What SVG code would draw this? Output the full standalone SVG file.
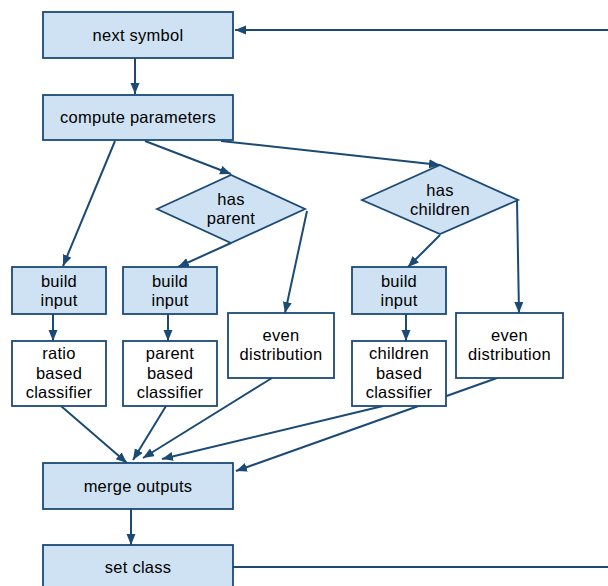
<svg xmlns="http://www.w3.org/2000/svg" width="608" height="586" viewBox="0 0 608 586">
<style>
.b{fill:#cfe2f3;stroke:#1b4a75;stroke-width:1.8}
.w{fill:#ffffff;stroke:#1b4a75;stroke-width:1.8}
text{font-family:"Liberation Sans",Arial,sans-serif;font-size:16.5px;letter-spacing:0.25px;fill:#000;text-anchor:middle}
#connectors line{stroke:#1b4a75;stroke-width:2;fill:none}
.a{marker-end:url(#ah)}
</style>
<defs>
<marker id="ah" markerUnits="userSpaceOnUse" markerWidth="12" markerHeight="10" refX="11" refY="4.5" orient="auto" viewBox="0 0 12 10">
<path d="M0,0 L11,4.5 L0,9 z" fill="#1b4a75"/>
</marker>
</defs>
<rect width="608" height="586" fill="#ffffff"/>
<g id="connectors">
<line class="a" x1="608" y1="30" x2="235" y2="30"/>
<line class="a" x1="135" y1="58" x2="135" y2="94"/>
<line class="a" x1="115" y1="141" x2="63" y2="266"/>
<line class="a" x1="145" y1="141" x2="231" y2="174"/>
<line class="a" x1="221" y1="141" x2="440" y2="165"/>
<line class="a" x1="231" y1="243" x2="178" y2="267"/>
<line class="a" x1="307" y1="211" x2="285" y2="313"/>
<line class="a" x1="53" y1="314" x2="53" y2="341"/>
<line class="a" x1="168" y1="314" x2="168" y2="341"/>
<line class="a" x1="406" y1="314" x2="406" y2="341"/>
<line class="a" x1="440" y1="235" x2="408" y2="267"/>
<line class="a" x1="517" y1="200" x2="519" y2="313"/>
<line class="a" x1="61" y1="406" x2="127" y2="463"/>
<line class="a" x1="166" y1="406" x2="133" y2="460"/>
<line class="a" x1="272" y1="378" x2="143" y2="458"/>
<line class="a" x1="383" y1="406" x2="162" y2="459"/>
<line class="a" x1="497" y1="378" x2="236" y2="471"/>
<line class="a" x1="131" y1="509" x2="131" y2="545"/>
<line x1="233" y1="567" x2="608" y2="567"/>
</g>
<g id="next-symbol"><rect class="b" x="43" y="12" width="190" height="46"/><text x="138" y="41">next symbol</text></g>
<g id="compute-parameters"><rect class="b" x="43" y="95" width="190" height="45"/><text x="138" y="123">compute parameters</text></g>
<g id="has-parent"><polygon class="b" points="157,209 231,175 305,209 231,243"/><text x="231" y="205">has</text><text x="231" y="224">parent</text></g>
<g id="has-children"><polygon class="b" points="362,200 440,165 518,200 440,234"/><text x="440" y="196">has</text><text x="440" y="215">children</text></g>
<g id="build-input-1"><rect class="b" x="12" y="267" width="94" height="47"/><text x="59" y="287">build</text><text x="59" y="306">input</text></g>
<g id="build-input-2"><rect class="b" x="123" y="267" width="94" height="47"/><text x="170" y="287">build</text><text x="170" y="306">input</text></g>
<g id="build-input-3"><rect class="b" x="352" y="267" width="94" height="47"/><text x="399" y="287">build</text><text x="399" y="306">input</text></g>
<g id="ratio-classifier"><rect class="w" x="12" y="341" width="94" height="65"/><text x="59" y="359">ratio</text><text x="59" y="379">based</text><text x="59" y="398">classifier</text></g>
<g id="parent-classifier"><rect class="w" x="123" y="341" width="94" height="65"/><text x="170" y="359">parent</text><text x="170" y="379">based</text><text x="170" y="398">classifier</text></g>
<g id="children-classifier"><rect class="w" x="352" y="341" width="94" height="65"/><text x="399" y="359">children</text><text x="399" y="379">based</text><text x="399" y="398">classifier</text></g>
<g id="even-distribution-1"><rect class="w" x="228" y="313" width="106" height="65"/><text x="281" y="341">even</text><text x="281" y="360">distribution</text></g>
<g id="even-distribution-2"><rect class="w" x="456" y="313" width="107" height="65"/><text x="509.5" y="341">even</text><text x="509.5" y="360">distribution</text></g>
<g id="merge-outputs"><rect class="b" x="43" y="463" width="190" height="46"/><text x="138" y="492">merge outputs</text></g>
<g id="set-class"><rect class="b" x="43" y="545" width="190" height="46"/><text x="138" y="573">set class</text></g>
</svg>
